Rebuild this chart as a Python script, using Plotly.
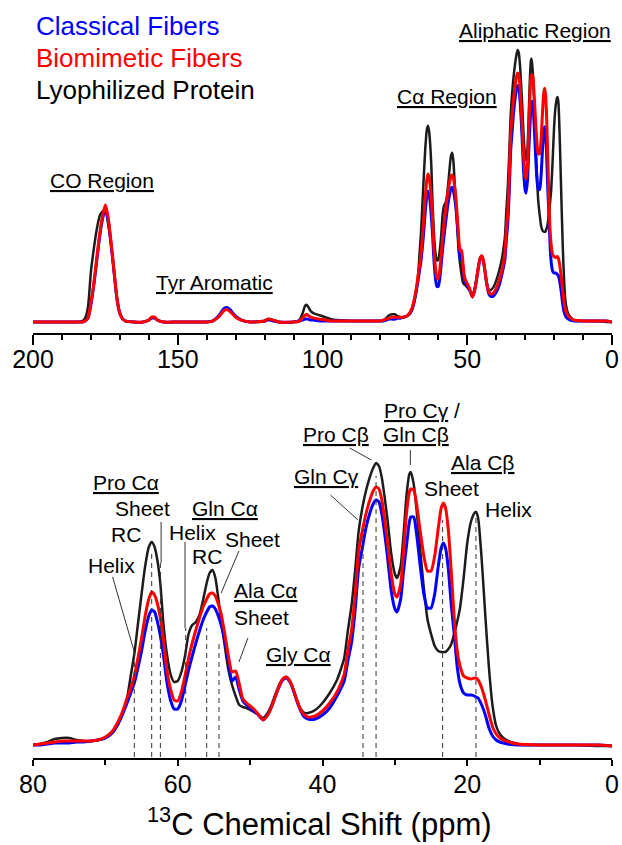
import plotly.graph_objects as go

# ---------------- data (chemical shift in ppm, intensity in arbitrary units) ----------------
ppm = [
    200, 195, 190, 185, 183, 182, 181, 180, 179, 178, 177, 176, 175, 174, 173,
    172, 171, 170, 169, 168, 165, 162, 160, 159, 158, 157, 155, 150, 145, 140,
    138, 136, 134, 133, 132, 130, 128, 125, 120, 119, 118, 117, 115, 110, 108,
    107, 106, 105.5, 105, 104, 103, 101, 99, 97, 95, 90, 85, 82,
    80, 79, 78, 77, 76, 75, 74, 73, 72, 71,
    70, 69, 68, 67.5, 67, 66.5, 66, 65.5, 65, 64.5,
    64, 63.6, 63.2, 62.8, 62.4, 62, 61.5, 61, 60.5, 60,
    59.5, 59, 58.5, 58, 57.5, 57, 56.5, 56, 55.6, 55.2,
    54.8, 54.4, 54, 53.5, 53, 52.5, 52, 51.5, 51, 50.5,
    50, 49.5, 49, 48.2, 47.5, 47, 46.5, 46, 45.5, 45,
    44.5, 44, 43.5, 43, 42.5, 42, 41, 40, 39, 38,
    37.5, 37, 36.5, 36, 35.5, 35, 34.5, 34, 33.5, 33,
    32.6, 32.2, 31.8, 31.4, 31, 30.5, 30, 29.7, 29.2, 28.8,
    28.4, 28, 27.8, 27.4, 27, 26.5, 26, 25.5, 25, 24.5,
    24, 23.6, 23.3, 23, 22.6, 22.2, 21.8, 21.4, 21, 20.5,
    20, 19.5, 19, 18.8, 18.5, 18, 17.5, 17, 16.5, 16,
    15.5, 15, 14, 13, 12, 10, 8, 5, 2, 0,
]

lyophilized = [
    0, 0, 0, 0, 1, 4, 16, 52, 76, 96, 110, 115, 116, 101, 80,
    52, 25, 9, 3, 1, 0, 0, 2, 5, 5, 2, 0, 0, 0, 0,
    1, 5, 12, 13, 12, 6, 2, 0, 1, 3, 3, 2, 0, 0, 2,
    8, 17, 18, 16, 11, 9, 7, 5, 3, 2, 1, 1, 1,
    1, 2, 4, 7, 8, 8, 6, 5, 5, 6,
    8, 13, 25, 35, 48, 70, 92, 122, 152, 180,
    199, 204, 199, 185, 162, 124, 92, 72, 64, 65,
    74, 90, 112, 121, 124, 131, 146, 163, 173, 176,
    168, 148, 126, 100, 76, 61, 50, 41, 39, 38,
    36, 34, 32, 28, 34, 42, 52, 61, 67, 69,
    65, 56, 45, 37, 33, 33, 36, 43, 53, 66,
    76, 88, 115, 140, 175, 215, 238, 255, 268, 278,
    283, 280, 268, 248, 225, 192, 172, 168, 180, 212,
    250, 272, 274, 262, 236, 196, 158, 127, 112, 100,
    95, 94, 94, 94, 97, 102, 112, 124, 138, 168,
    203, 224, 233, 234, 228, 186, 130, 78, 40, 20,
    12, 8, 4, 2, 1, 1, 1, 1, 0, 0,
]

biomimetic = [
    0, 0, 0, 0, 0, 1, 4, 20, 40, 66, 91, 110, 122, 108, 82,
    53, 25, 9, 3, 1, 0, 0, 2, 5, 5, 2, 0, 0, 0, 0,
    1, 5, 12, 13, 11, 5, 2, 0, 1, 3, 3, 2, 0, 0, 1,
    4, 7, 8, 7, 5, 4, 3, 2, 1, 1, 1, 1, 1,
    1, 2, 3, 4, 5, 5, 5, 5, 5, 6,
    9, 15, 28, 37, 48, 58, 70, 88, 108, 130,
    147, 154, 151, 142, 128, 108, 76, 57, 46, 45,
    54, 70, 88, 103, 116, 128, 139, 147, 152, 153,
    150, 142, 132, 112, 90, 74, 75, 62, 47, 43,
    40, 37, 33, 26, 32, 40, 50, 60, 67, 69,
    65, 56, 45, 36, 31, 29, 30, 35, 43, 54,
    62, 72, 95, 115, 150, 195, 215, 232, 245, 255,
    259, 257, 246, 226, 203, 172, 152, 149, 162, 195,
    232, 254, 257, 256, 242, 215, 190, 175, 175, 190,
    218, 238, 243, 238, 215, 173, 128, 96, 80, 70,
    68, 67, 68, 68, 66, 58, 46, 32, 19, 12,
    8, 6, 3.5, 2, 1.5, 1, 1, 1, 1, 0,
]

classical = [
    0, 0, 0, 0, 0, 1, 4, 18, 38, 63, 88, 107, 118, 105, 80,
    52, 24, 9, 3, 1, 0, 0, 2, 4, 4, 2, 0, 0, 0, 0,
    1, 6, 14, 15, 13, 6, 2, 0, 1, 2, 2, 1, 0, 0, 1,
    2, 3, 3, 3, 2, 2, 1, 1, 1, 1, 1, 1, 1,
    1, 1, 2, 3, 3, 3, 4, 4, 5, 6,
    8, 14, 26, 34, 43, 53, 63, 78, 95, 115,
    130, 136, 134, 124, 110, 92, 64, 46, 37, 37,
    45, 60, 76, 90, 103, 115, 126, 134, 139, 140,
    137, 130, 121, 105, 84, 65, 69, 56, 45, 41,
    38, 35, 32, 26, 32, 40, 50, 59, 66, 68,
    64, 55, 44, 35, 29, 27, 27, 31, 38, 50,
    57, 65, 85, 103, 135, 178, 198, 218, 232, 242,
    246, 244, 232, 212, 188, 155, 137, 134, 147, 175,
    200, 224, 229, 229, 212, 180, 152, 138, 138, 152,
    180, 198, 203, 198, 176, 140, 112, 80, 62, 53,
    51, 51, 50, 49, 48, 41, 31, 18, 10, 6,
    4, 3, 1.5, 1, 1, 1, 1, 1, 1, 0,
]

assert len(ppm) == len(lyophilized) == len(biomimetic) == len(classical)

top_ticks = [200, 150, 100, 50, 0]
bottom_ticks = [80, 60, 40, 20, 0]

# assignment guide lines (ppm, height reached)
dashed_ppm = [66.0, 63.6, 62.4, 58.9, 56.0, 54.3, 34.4, 32.6, 23.4, 18.8]
dashed_top = [94, 196, 183, 118, 118, 106, 216, 270, 226, 229]
# leader lines: (ppm0, int0, ppm1, int1)
leaders = [
    (62.3, 224, 62.3, 183),
    (69.0, 169, 66.0, 94),
    (59.0, 204, 59.0, 118),
    (51.55, 195, 54.0, 153),
    (50.3, 108, 51.55, 84),
    (38.9, 251, 35.1, 226),
    (36.25, 298, 33.25, 286),
    (27.86, 296, 27.86, 281),
]

FONT = "Arial, Liberation Sans, sans-serif"
COLORS = {"Lyophilized Protein": "#1c1c1c", "Classical Fibers": "#0000ff", "Biomimetic Fibers": "#ff0000"}

fig = go.Figure()
series = [("Lyophilized Protein", lyophilized, 2.5),
          ("Classical Fibers", classical, 3),
          ("Biomimetic Fibers", biomimetic, 3)]
for name, vals, w in series:
    for xa, ya in (("x", "y"), ("x2", "y2")):
        fig.add_trace(go.Scatter(x=ppm, y=vals, xaxis=xa, yaxis=ya, mode="lines", name=name,
                                 line=dict(color=COLORS[name], width=w, shape="spline", smoothing=0.6),
                                 showlegend=False, hoverinfo="skip"))

# pixel -> paper helpers (layout only)
PL, PW, PH = 33, 579, 758
def X(px):
    return (px - PL) / PW
def Y(py):
    return (PH - py) / PH

annotations = []
def label(text, x, y, size=21, color="black"):
    annotations.append(dict(text=text, x=X(x), y=Y(y), xref="paper", yref="paper",
                            xanchor="left", yanchor="middle", showarrow=False,
                            font=dict(family=FONT, size=size, color=color)))

label("Classical Fibers", 34, 26, 26, "#0000ff")
label("Biomimetic Fibers", 34, 58, 26, "#ff0000")
label("Lyophilized Protein", 34, 90, 26, "black")
label("<u>CO Region</u>", 48, 181)
label("<u>Tyr Aromatic</u>", 154, 282)
label("<u>Cα Region</u>", 395, 97)
label("<u>Aliphatic Region</u>", 457, 31)

label("<u>Pro Cα</u>", 91, 483)
label("Sheet", 113, 508)
label("RC", 109, 534)
label("Helix", 86, 565)
label("<u>Gln Cα</u>", 190, 508)
label("Helix", 167, 532)
label("Sheet", 223, 539)
label("RC", 190, 556)
label("<u>Ala Cα</u>", 232, 590)
label("Sheet", 232, 617)
label("<u>Gly Cα</u>", 264, 654)
label("<u>Gln Cγ</u>", 292, 477)
label("<u>Pro Cβ</u>", 301, 435)
label("<u>Pro Cγ</u> /", 382, 411)
label("<u>Gln Cβ</u>", 381, 435)
label("<u>Ala Cβ</u>", 449, 462)
label("Sheet", 422, 489)
label("Helix", 483, 509)

annotations.append(dict(text="<sup>13</sup>C Chemical Shift (ppm)", x=X(319), y=Y(844),
                        xref="paper", yref="paper", xanchor="center", yanchor="bottom",
                        showarrow=False, font=dict(family=FONT, size=31, color="black")))

shapes = []
for p, top in zip(dashed_ppm, dashed_top):
    shapes.append(dict(type="line", xref="x2", yref="y2", x0=p, x1=p, y0=-11, y1=top,
                       line=dict(color="#333333", width=1, dash="5px,4px")))
for x0, y0, x1, y1 in leaders:
    shapes.append(dict(type="line", xref="x2", yref="y2", x0=x0, x1=x1, y0=y0, y1=y1,
                       line=dict(color="#333333", width=1)))

axis_common = dict(showline=True, linewidth=2, linecolor="black", ticks="outside", tickwidth=2,
                   tickcolor="black", showgrid=False, zeroline=False,
                   tickfont=dict(family=FONT, size=25, color="black"))

fig.update_layout(
    width=622, height=845,
    margin=dict(l=PL, r=622 - PL - PW, t=0, b=845 - PH),
    plot_bgcolor="white", paper_bgcolor="white",
    font=dict(family=FONT, color="black"),
    showlegend=False,
    xaxis=dict(domain=[0, 1], anchor="y", range=[200, 0], tickvals=top_ticks, ticklen=10,
               ticklabelstandoff=-7,
               minor=dict(dtick=10, tick0=0, ticks="outside", ticklen=5, tickwidth=2, tickcolor="black"),
               **axis_common),
    yaxis=dict(domain=[(PH - 333) / PH, 1], range=[-11.44, 334.9], visible=False),
    xaxis2=dict(domain=[0, 1], anchor="y2", range=[80, 0], tickvals=bottom_ticks, ticklen=6,
                ticklabelstandoff=-3,
                minor=dict(dtick=10, tick0=0, ticks="outside", ticklen=5, tickwidth=2, tickcolor="black"),
                **axis_common),
    yaxis2=dict(domain=[0, (PH - 380) / PH], range=[-12, 366], visible=False),
    annotations=annotations,
    shapes=shapes,
)

fig.write_html("out.html")
